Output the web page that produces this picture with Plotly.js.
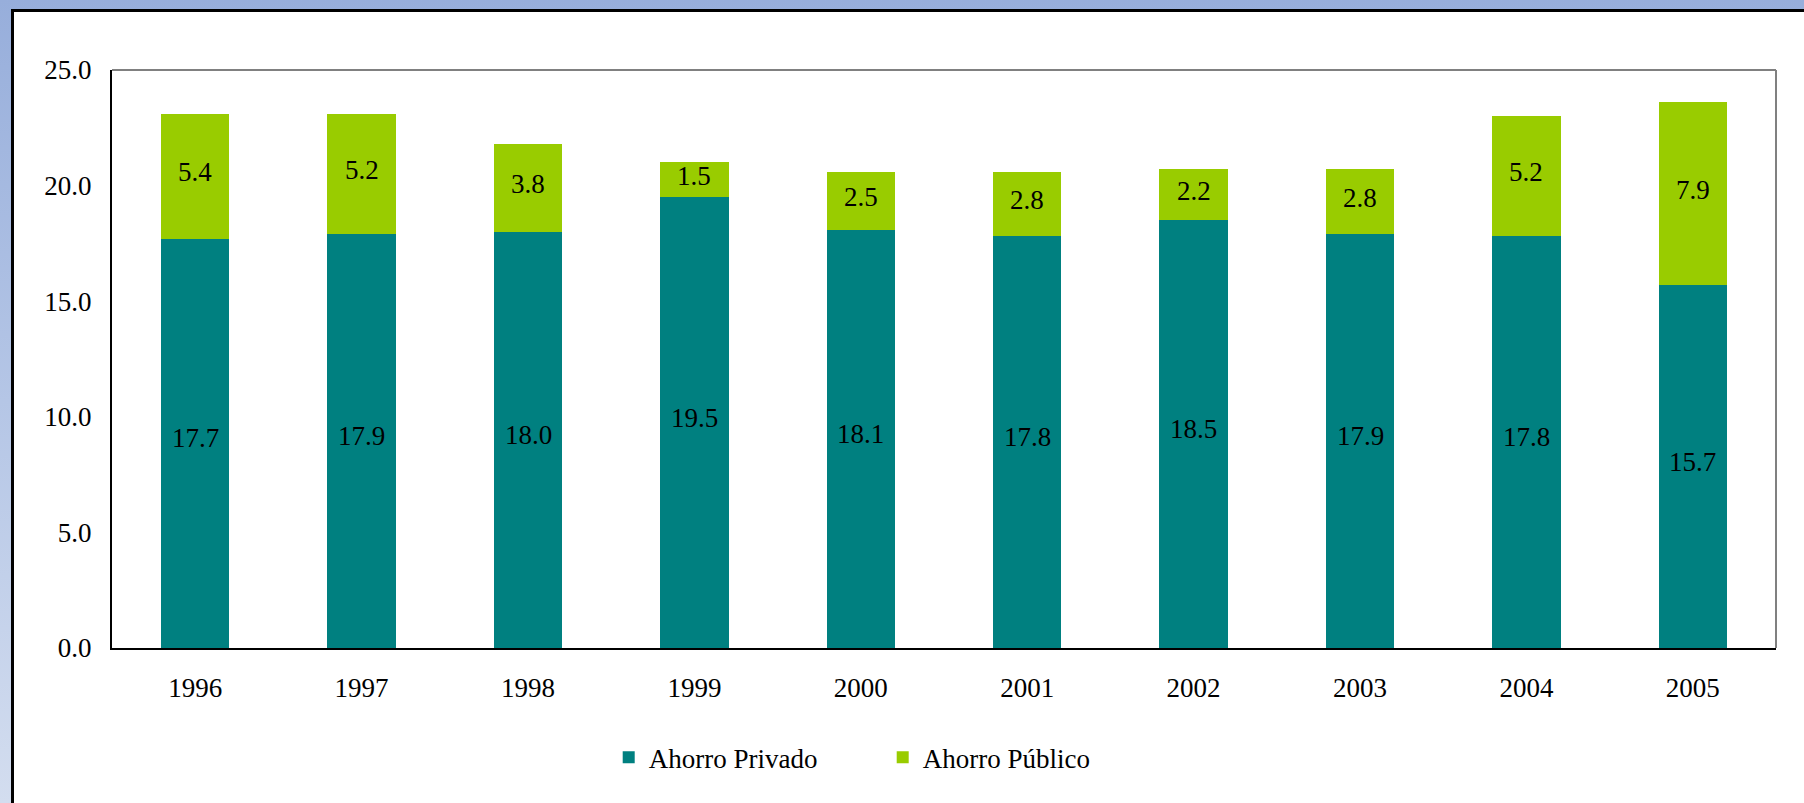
<!DOCTYPE html>
<html>
<head>
<meta charset="utf-8">
<script src="https://cdn.plot.ly/plotly-3.0.1.min.js"></script>
<style>
  html, body { margin:0; padding:0; width:1804px; height:803px; overflow:hidden; }
  body { background: linear-gradient(to bottom, #97AEDB 0%, #B5C6E6 50%, #D3DDEF 100%); position:relative; }
  #panel { position:absolute; left:11px; top:9px; width:1800px; height:800px; background:#fff;
           border-top:3px solid #000; border-left:3px solid #000; box-sizing:border-box; }
  #chart { position:absolute; left:0; top:0; width:1804px; height:803px; }
  #chart svg text { font-family: "Liberation Serif", "Times New Roman", "DejaVu Serif", serif !important; }
</style>
</head>
<body>
<div id="panel"></div>
<div id="chart"></div>
<script>
const years = ['1996','1997','1998','1999','2000','2001','2002','2003','2004','2005'];
const ahorroPrivado = [17.7, 17.9, 18.0, 19.5, 18.1, 17.8, 18.5, 17.9, 17.8, 15.7];
const ahorroPublico = [5.4, 5.2, 3.8, 1.5, 2.5, 2.8, 2.2, 2.8, 5.2, 7.9];
const seriesNames = ['Ahorro Privado', 'Ahorro Público'];
const yTicks = [0, 5, 10, 15, 20, 25];

const FONT = 'Times New Roman';
const pos = years.map((_, i) => i);

const traces = [
  { type:'bar', x: pos, y: ahorroPrivado, name: seriesNames[0],
    marker:{ color:'#008080' }, hoverinfo:'none' },
  { type:'bar', x: pos, y: ahorroPublico, name: seriesNames[1],
    marker:{ color:'#99CC00' }, hoverinfo:'none' }
];

const annotations = [];
pos.forEach((p, i) => {
  annotations.push({ x: p, y: ahorroPrivado[i] / 2, xref:'x', yref:'y', yshift:5,
    text: ahorroPrivado[i].toFixed(1), showarrow:false,
    font:{ family: FONT, size:27, color:'#000' } });
  annotations.push({ x: p, y: ahorroPrivado[i] + ahorroPublico[i] / 2, xref:'x', yref:'y', yshift:4,
    text: ahorroPublico[i].toFixed(1), showarrow:false,
    font:{ family: FONT, size:27, color:'#000' } });
});

const layout = {
  width:1804, height:803,
  margin:{ l:112, r:28, t:70, b:155 },
  paper_bgcolor:'rgba(0,0,0,0)',
  plot_bgcolor:'#fff',
  barmode:'stack',
  bargap:0.59,
  font:{ family: FONT, size:27, color:'#000' },
  xaxis:{ range:[-0.5, 9.5], tickvals: pos, ticktext: years, showline:true, linecolor:'#000', linewidth:2,
          ticks:'', showgrid:false, zeroline:false,
          tickfont:{ family: FONT, size:27, color:'#000' }, ticklabelstandoff:15 },
  yaxis:{ range:[0,25], tickvals: yTicks, tickformat:'.1f',
          showline:true, linecolor:'#000', linewidth:2,
          ticks:'', showgrid:false, zeroline:false,
          tickfont:{ family: FONT, size:27, color:'#000' }, ticklabelstandoff:13 },
  shapes:[
    { type:'line', xref:'paper', yref:'paper', x0:0, x1:1, y0:1, y1:1, line:{ color:'#808080', width:2 } },
    { type:'line', xref:'paper', yref:'paper', x0:1, x1:1, y0:0, y1:1, line:{ color:'#808080', width:2 } }
  ],
  annotations: annotations,
  showlegend:true,
  legend:{ orientation:'h', x:0.2985, xanchor:'left', y:-0.19, yanchor:'middle',
           font:{ family: FONT, size:27, color:'#000' },
           entrywidth:229, entrywidthmode:'pixels', bgcolor:'rgba(0,0,0,0)', traceorder:'normal' }
};

Plotly.newPlot('chart', traces, layout, { staticPlot:true, displayModeBar:false });
</script>
</body>
</html>
